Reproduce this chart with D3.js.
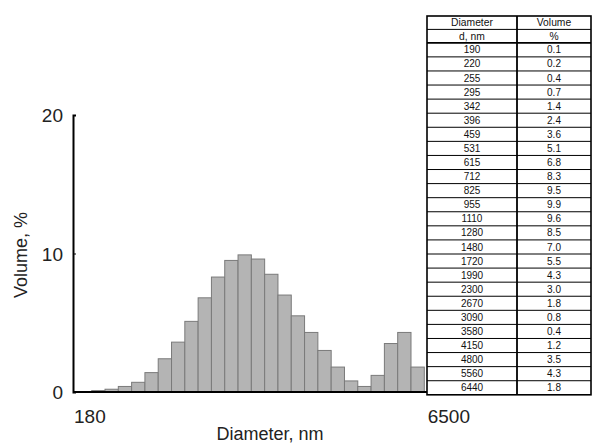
<!DOCTYPE html>
<html>
<head>
<meta charset="utf-8">
<script src="https://cdn.jsdelivr.net/npm/d3@7"></script>
<style>
  html, body { margin: 0; padding: 0; background: #ffffff; }
  svg { display: block; font-family: "Liberation Sans", Arial, sans-serif; }
</style>
</head>
<body>
<svg id="chart" width="592" height="444"></svg>
<script>
// Particle size distribution (volume %) by diameter class
const diameters = [190, 220, 255, 295, 342, 396, 459, 531, 615, 712, 825, 955,
                   1110, 1280, 1480, 1720, 1990, 2300, 2670, 3090, 3580, 4150, 4800, 5560, 6440];
const volumes   = [0.1, 0.2, 0.4, 0.7, 1.4, 2.4, 3.6, 5.1, 6.8, 8.3, 9.5, 9.9,
                   9.6, 8.5, 7.0, 5.5, 4.3, 3.0, 1.8, 0.8, 0.4, 1.2, 3.5, 4.3, 1.8];
const yTicks = [0, 10, 20];
const xEndLabels = ["180", "6500"];
const tableHeader = [["Diameter", "Volume"], ["d, nm", "%"]];

const svg = d3.select("#chart");

// Scales
const x = d3.scaleBand().domain(diameters).range([91.7, 424.3]).paddingInner(0).paddingOuter(0);
const y = d3.scaleLinear().domain([0, 20]).range([392, 115]);
const xAxisScale = d3.scalePoint().domain(xEndLabels).range([73, 470]);

// Bars
svg.append("g").selectAll("rect")
  .data(diameters.map((d, i) => ({ d, v: volumes[i] })))
  .join("rect")
  .attr("x", d => x(d.d))
  .attr("y", d => y(d.v))
  .attr("width", x.bandwidth())
  .attr("height", d => y(0) - y(d.v))
  .attr("fill", "#b4b4b4")
  .attr("stroke", "#7a7a7a")
  .attr("stroke-width", 1);

// Y axis
const yAxis = svg.append("g")
  .attr("transform", "translate(73,0)")
  .call(d3.axisRight(y).tickValues(yTicks).tickSize(3).tickFormat(""));
yAxis.select(".domain").attr("stroke", "#000").attr("stroke-width", 2);
yAxis.selectAll(".tick line").attr("stroke", "#000").attr("stroke-width", 1);

svg.append("g").selectAll("text")
  .data(yTicks)
  .join("text")
  .attr("x", 63)
  .attr("y", d => y(d) + 7)
  .attr("text-anchor", "end")
  .attr("font-size", 19)
  .attr("fill", "#222")
  .text(d => d);

// X axis line with end labels
svg.append("line")
  .attr("x1", xAxisScale.range()[0]).attr("x2", xAxisScale.range()[1])
  .attr("y1", y(0)).attr("y2", y(0))
  .attr("stroke", "#000").attr("stroke-width", 2.2);

svg.append("g").selectAll("text")
  .data(xEndLabels)
  .join("text")
  .attr("x", (d, i) => xAxisScale(d) + (i === 0 ? 1 : 0))
  .attr("y", 423)
  .attr("text-anchor", (d, i) => i === 0 ? "start" : "end")
  .attr("font-size", 19)
  .attr("fill", "#222")
  .text(d => d);

// Axis titles
svg.append("text")
  .attr("x", 270).attr("y", 440)
  .attr("text-anchor", "middle")
  .attr("font-size", 18)
  .attr("fill", "#222")
  .text("Diameter, nm");

svg.append("text")
  .attr("transform", "translate(27,255) rotate(-90)")
  .attr("text-anchor", "middle")
  .attr("font-size", 18)
  .attr("fill", "#222")
  .text("Volume, %");

// Data table
const tX0 = 427, tX1 = 517, tX2 = 591;
const tTop = 16, headH = 13.4, rowH = 14.08;
const dataTop = tTop + 2 * headH;
const tBottom = dataTop + diameters.length * rowH;
const table = svg.append("g");

table.append("rect")
  .attr("x", tX0).attr("y", tTop)
  .attr("width", tX2 - tX0).attr("height", tBottom - tTop)
  .attr("fill", "#fff").attr("stroke", "#000").attr("stroke-width", 1.6);

// horizontal rules
const rules = [tTop + headH, dataTop];
diameters.forEach((d, i) => { if (i > 0) rules.push(dataTop + i * rowH); });
table.selectAll("line.rule")
  .data(rules)
  .join("line")
  .attr("class", "rule")
  .attr("x1", tX0).attr("x2", tX2)
  .attr("y1", d => d).attr("y2", d => d)
  .attr("stroke", "#000")
  .attr("stroke-width", (d, i) => i === 1 ? 1.8 : 1);

table.append("line")
  .attr("x1", tX1).attr("x2", tX1)
  .attr("y1", tTop).attr("y2", tBottom)
  .attr("stroke", "#000").attr("stroke-width", 1.8);

const colC = [(tX0 + tX1) / 2, (tX1 + tX2) / 2];
tableHeader.forEach((row, r) => {
  row.forEach((txt, c) => {
    table.append("text")
      .attr("x", colC[c]).attr("y", tTop + r * headH + 10.2)
      .attr("text-anchor", "middle")
      .attr("font-size", 10.3)
      .attr("fill", "#111")
      .text(txt);
  });
});

diameters.forEach((d, i) => {
  const yy = dataTop + i * rowH + 10.6;
  table.append("text")
    .attr("x", colC[0]).attr("y", yy)
    .attr("text-anchor", "middle").attr("font-size", 10).attr("fill", "#111")
    .text(d);
  table.append("text")
    .attr("x", colC[1]).attr("y", yy)
    .attr("text-anchor", "middle").attr("font-size", 10).attr("fill", "#111")
    .text(d3.format(".1f")(volumes[i]));
});
</script>
</body>
</html>
